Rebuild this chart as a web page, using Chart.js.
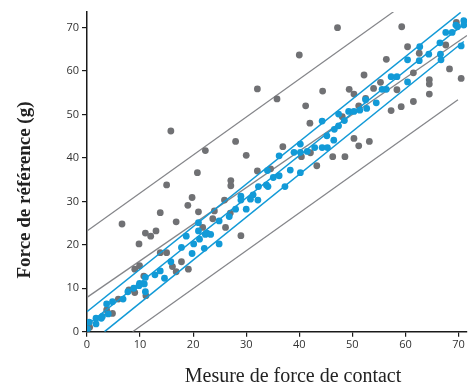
<!DOCTYPE html>
<html>
<head>
<meta charset="utf-8">
<script src="https://cdn.jsdelivr.net/npm/chart.js@4/dist/chart.umd.min.js"></script>
<style>
  html, body { margin: 0; padding: 0; background: #fff; }
  #wrap { width: 471px; height: 389px; }
</style>
</head>
<body>
<div id="wrap"><canvas id="chart" width="471" height="389"></canvas></div>
<script>
// points: [x, y]
const grayPoints = [
  [0.4, 2.1], [0.5, 1.0], [3.7, 5.0], [4.8, 4.2], [5.9, 7.5], [6.6, 24.8], [7.9, 9.6],
  [9.0, 9.0], [9.0, 14.4], [9.8, 20.2], [9.9, 15.2], [10.7, 12.8], [11.1, 8.3], [11.0, 22.7],
  [12.0, 22.0], [13.0, 23.2], [13.8, 27.4], [13.8, 18.2], [15.0, 18.2], [15.0, 33.8],
  [15.8, 46.2], [16.1, 15.0], [16.8, 13.8], [16.8, 25.3], [17.8, 16.1], [19.1, 14.4],
  [19.0, 29.1], [19.8, 30.9], [20.8, 36.6], [21.0, 27.6], [21.8, 24.0], [22.3, 41.7],
  [23.7, 26.0], [24.0, 27.8], [25.9, 30.3], [26.1, 24.0], [27.0, 27.3], [27.1, 33.6],
  [27.1, 34.8], [28.0, 43.8], [29.0, 22.1], [30.0, 40.6], [32.1, 37.0], [32.1, 55.9],
  [34.6, 37.5], [35.8, 53.6], [36.9, 42.6], [40.0, 63.7], [40.4, 40.3], [41.2, 52.0],
  [42.0, 48.0], [42.1, 41.2], [43.3, 38.2], [44.4, 55.4], [46.3, 40.3], [47.2, 70.0],
  [48.1, 49.5], [48.6, 40.3], [49.4, 55.8], [50.3, 54.7], [50.3, 44.5], [51.2, 52.0],
  [51.2, 42.8], [52.2, 59.1], [52.5, 53.7], [53.2, 43.8], [54.0, 56.0], [55.3, 57.4],
  [56.4, 62.7], [57.3, 50.9], [58.4, 55.7], [59.2, 51.8], [59.3, 70.2], [60.4, 65.6],
  [61.5, 59.6], [61.5, 53.0], [62.6, 64.1], [64.5, 58.0], [64.5, 57.0], [64.5, 54.7],
  [67.6, 66.0], [68.3, 60.5], [69.6, 71.2], [70.5, 58.3]
];
const bluePoints = [
  [0.1, 0.6], [0.4, 2.2], [1.7, 1.8], [1.7, 3.1], [2.7, 3.1], [2.9, 3.5], [3.7, 6.4],
  [4.0, 4.1], [4.8, 6.9], [6.8, 7.5], [7.7, 9.2], [8.8, 10.0], [9.9, 11.1], [9.8, 10.6],
  [10.8, 11.0], [11.0, 12.5], [11.0, 9.2], [12.8, 13.1], [13.8, 14.0], [14.6, 12.3],
  [15.8, 16.1], [17.8, 19.4], [18.7, 22.0], [19.8, 18.0], [20.1, 20.2], [21.0, 25.1],
  [21.0, 23.2], [21.2, 21.3], [22.1, 19.2], [22.3, 22.4], [22.6, 22.7], [23.3, 22.4],
  [24.9, 25.5], [24.9, 20.2], [26.8, 26.5], [28.0, 28.2], [29.0, 31.2], [29.0, 30.3],
  [30.0, 28.2], [30.8, 30.5], [31.3, 31.5], [32.2, 30.3], [32.3, 33.4], [33.8, 33.8],
  [34.0, 37.1], [34.1, 33.4], [35.1, 35.5], [36.2, 35.9], [36.2, 40.5], [37.3, 33.4],
  [38.3, 37.2], [39.0, 41.3], [40.2, 43.2], [40.2, 36.6], [40.2, 41.3], [41.5, 41.5],
  [42.9, 42.4], [44.3, 42.4], [44.3, 48.5], [45.3, 42.4], [45.2, 45.1], [46.5, 44.1],
  [46.6, 46.6], [47.4, 47.4], [47.4, 50.1], [48.5, 48.6], [49.3, 50.7], [50.3, 50.7],
  [51.4, 51.0], [52.5, 53.4], [52.7, 51.4], [54.5, 52.7], [55.6, 55.8], [56.4, 55.8],
  [57.3, 58.7], [58.4, 58.7], [60.4, 62.6], [60.4, 57.5], [62.6, 62.4], [62.7, 65.6],
  [64.4, 63.9], [66.5, 66.5], [66.6, 63.9], [66.7, 62.6], [67.6, 68.9], [68.8, 68.9],
  [69.5, 70.6], [69.8, 70.2], [70.5, 65.8], [71.0, 71.6], [71.0, 70.6]
];

// line end points [x, y]
const grayFit = [[0, 7.9], [71.6, 68.2]];
const grayUpper = [[0, 23.2], [57.8, 73.7]];
const grayLower = [[8.6, 0], [69.9, 53.4]];
const blueFit = [[0, 1.5], [71.6, 71.4]];
const blueUpper = [[0, 4.6], [70.4, 73.5]];
const blueLower = [[3.3, 0], [71.0, 66.8]];

const xTicks = [0, 10, 20, 30, 40, 50, 60, 70];
const yTicks = [0, 10, 20, 30, 40, 50, 60, 70];
const xMax = 71.6;
const yMax = 73.6;

const GRAY = "#707174";
const GRAY_LINE = "#85868a";
const BLUE = "#129ad7";

const toXY = (arr) => arr.map(([x, y]) => ({ x, y }));

function lineSet(pts, color, width, order) {
  return {
    type: "line",
    data: toXY(pts),
    borderColor: color,
    borderWidth: width,
    pointRadius: 0,
    fill: false,
    order: order,
  };
}

// axis titles drawn by hand so they sit where the reference has them
const axisTitles = {
  id: "axisTitles",
  afterDraw(chart) {
    const ctx = chart.ctx;
    ctx.save();
    ctx.fillStyle = "#222";
    ctx.textAlign = "center";
    ctx.textBaseline = "middle";
    ctx.font = "20px 'Liberation Serif', serif";
    ctx.fillText("Mesure de force de contact", 293, 377);
    ctx.translate(25, 190);
    ctx.rotate(-Math.PI / 2);
    ctx.font = "bold 19px 'Liberation Serif', serif";
    ctx.fillText("Force de référence (g)", 0, 0);
    ctx.restore();
  },
};

const ctx = document.getElementById("chart").getContext("2d");
new Chart(ctx, {
  type: "scatter",
  data: {
    datasets: [
      {
        data: toXY(bluePoints),
        backgroundColor: BLUE,
        borderWidth: 0,
        pointRadius: 3.4,
        order: 0,
      },
      lineSet(blueUpper, BLUE, 1.5, 1),
      lineSet(blueFit, BLUE, 1.5, 1),
      lineSet(blueLower, BLUE, 1.5, 1),
      {
        data: toXY(grayPoints),
        backgroundColor: GRAY,
        borderWidth: 0,
        pointRadius: 3.4,
        order: 2,
      },
      lineSet(grayUpper, GRAY_LINE, 1.3, 3),
      lineSet(grayFit, GRAY_LINE, 1.3, 3),
      lineSet(grayLower, GRAY_LINE, 1.3, 3),
    ],
  },
  options: {
    responsive: false,
    animation: false,
    layout: { padding: { left: 0, right: 0, top: 12, bottom: 0 } },
    plugins: {
      legend: { display: false },
      tooltip: { enabled: false },
    },
    scales: {
      x: {
        type: "linear",
        min: 0,
        max: xMax,
        afterBuildTicks: (scale) => {
          scale.ticks = xTicks.map((v) => ({ value: v }));
        },
        afterFit: (scale) => {
          scale.height = 57.3;
        },
        border: { color: "#1a1a1a", width: 1.5 },
        grid: { drawOnChartArea: false, drawTicks: true, tickLength: 5, color: "#1a1a1a", lineWidth: 1.2 },
        ticks: {
          color: "#333",
          padding: 2,
          maxRotation: 0,
          font: { family: "'Open Sans', sans-serif", size: 11 },
        },
      },
      y: {
        type: "linear",
        min: 0,
        max: yMax,
        afterBuildTicks: (scale) => {
          scale.ticks = yTicks.map((v) => ({ value: v }));
        },
        afterFit: (scale) => {
          scale.width = 87;
        },
        border: { color: "#1a1a1a", width: 1.5 },
        grid: { drawOnChartArea: false, drawTicks: true, tickLength: 5, color: "#1a1a1a", lineWidth: 1.2 },
        ticks: {
          color: "#333",
          padding: 3,
          font: { family: "'Open Sans', sans-serif", size: 11 },
        },
      },
    },
  },
  plugins: [axisTitles],
});
</script>
</body>
</html>
